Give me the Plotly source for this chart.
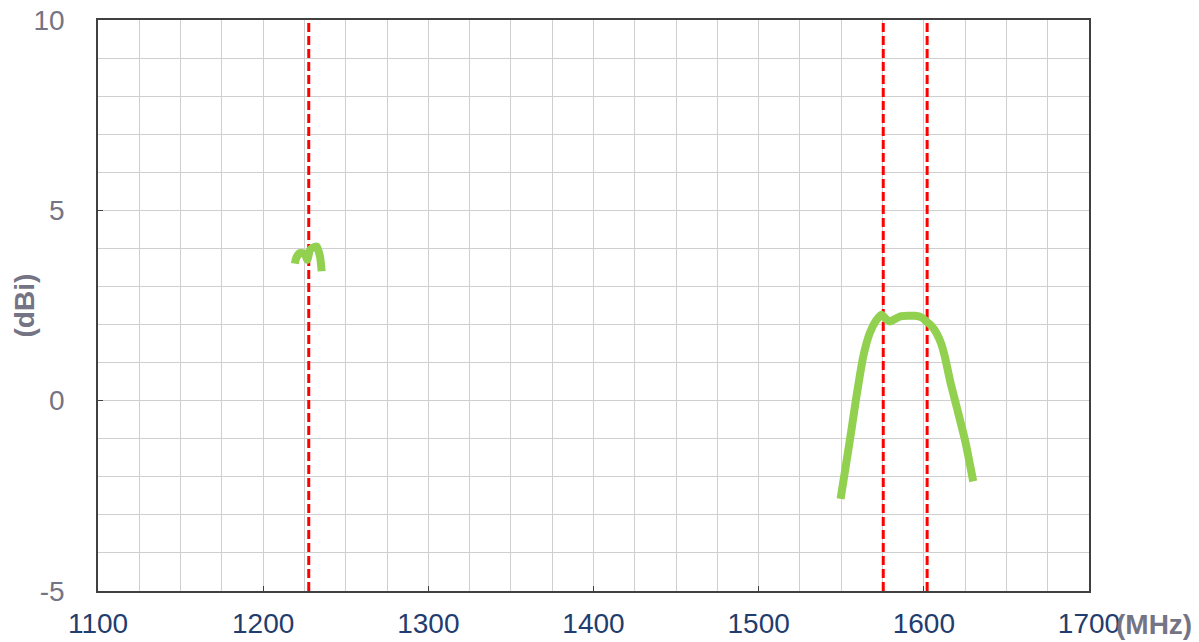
import plotly.graph_objects as go

# Gain curve near GPS L2 band
l2_freq = [1219.2, 1220.0, 1222.3, 1225.3, 1226.7, 1228.3, 1230.0, 1232.4, 1234.4, 1235.4]
l2_gain = [3.60, 3.75, 3.88, 3.85, 3.70, 3.95, 4.02, 4.05, 3.79, 3.40]

# Gain curve near GPS L1 / GLONASS L1 band
l1_freq = [1549.6, 1553.0, 1556.2, 1559.2, 1563.3, 1567.3, 1571.0, 1574.4, 1577.0, 1579.4,
           1585.5, 1594.6, 1599.0, 1601.6, 1604.5, 1607.6, 1610.5, 1612.7, 1616.0, 1619.8,
           1625.0, 1629.9]
l1_gain = [-2.58, -1.65, -0.76, 0.11, 1.16, 1.78, 2.10, 2.26, 2.15, 2.08,
           2.21, 2.23, 2.18, 2.08, 1.97, 1.78, 1.50, 1.16, 0.50, -0.15,
           -1.05, -2.12]

# Marker frequencies (MHz)
marker_freqs = [1227.6, 1575.42, 1602.0]

x_range = [1100, 1700]
y_range = [-5, 10]
y_tickvals = [-5, 0, 5, 10]
y_ticktext = ["-5", "0", "5", "10"]

fig = go.Figure()

for f in marker_freqs:
    fig.add_trace(go.Scatter(x=[f, f], y=y_range, mode="lines",
                             line=dict(color="#ff0000", width=3, dash="9px,4px"),
                             hoverinfo="skip", showlegend=False))

for xs, ys in [(l2_freq, l2_gain), (l1_freq, l1_gain)]:
    fig.add_trace(go.Scatter(x=xs, y=ys, mode="lines",
                             line=dict(color="#92d050", width=8, shape="spline", smoothing=0.6),
                             showlegend=False))

# page body adds an 8px margin, so the figure is sized/placed to compensate
fig.update_layout(
    width=1191, height=634,
    margin=dict(l=90, r=110, t=12, b=51),
    paper_bgcolor="white", plot_bgcolor="white",
    font=dict(family="Liberation Sans, Arial, sans-serif"),
    xaxis=dict(range=x_range, dtick=100, tick0=1100, automargin=False,
               ticklabeloverflow="allow",
               showgrid=True, gridcolor="#cfcfcf", gridwidth=1,
               minor=dict(dtick=25, showgrid=True, gridcolor="#cfcfcf", gridwidth=1),
               ticks="inside", ticklen=5, tickcolor="#404040",
               showline=True, linecolor="#404040", linewidth=1.5, mirror=True,
               zeroline=False,
               tickfont=dict(size=28, color="#1f3d6e"), ticklabelstandoff=7),
    yaxis=dict(range=y_range, tickvals=y_tickvals, ticktext=y_ticktext, automargin=False,
               ticklabeloverflow="allow",
               showgrid=True, gridcolor="#cfcfcf", gridwidth=1,
               minor=dict(dtick=1, showgrid=True, gridcolor="#cfcfcf", gridwidth=1),
               ticks="inside", ticklen=5, tickcolor="#404040",
               showline=True, linecolor="#404040", linewidth=1.5, mirror=True,
               zeroline=False,
               tickfont=dict(size=28, color="#747484"), ticklabelstandoff=26),
    annotations=[
        dict(text="<b>(dBi)</b>", textangle=-90, xref="paper", yref="paper",
             x=0, y=0.5, xanchor="center", yanchor="middle", xshift=-74,
             showarrow=False, font=dict(size=28, color="#747484")),
        dict(text="<b>(MHz)</b>", xref="paper", yref="paper",
             x=1, y=0, xanchor="left", yanchor="middle", xshift=25, yshift=-33,
             showarrow=False, font=dict(size=28, color="#747484")),
    ],
)

fig.write_html("out.html")
